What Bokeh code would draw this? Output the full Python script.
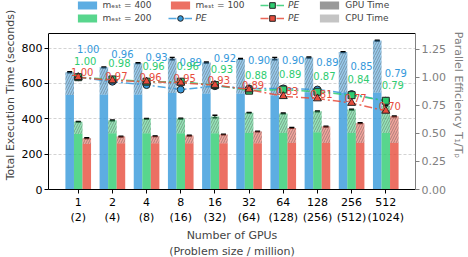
from bokeh.plotting import figure
from bokeh.models import (Range1d, LinearAxis, FixedTicker, ColumnDataSource, Whisker,
                          TeeHead, Legend, LegendItem, PrintfTickFormatter, Span)
from bokeh.core.properties import value
from bokeh.embed import file_html
from bokeh.resources import INLINE

# ---------------- data ----------------
gpus = ["1", "2", "4", "8", "16", "32", "64", "128", "256", "512"]
sizes = ["2", "4", "8", "16", "32", "64", "128", "256", "512", "1024"]

total_400 = [663, 691, 714, 740, 718, 738, 740, 746, 777, 842]
gpu_400 = [534, 537, 537, 545, 543, 543, 532, 550, 549, 549]
err_400 = [3, 2, 2, 7, 3, 2, 6, 3, 2, 2]

total_200 = [383, 391, 400, 401, 413, 434, 430, 442, 452, 474]
gpu_200 = [314, 318, 318, 318, 318, 320, 320, 324, 320, 320]
err_200 = [2, 2, 2, 2, 7, 2, 2, 2, 2, 2]

total_100 = [290, 299, 301, 305, 311, 328, 348, 356, 375, 414]
gpu_100 = [257, 261, 261, 261, 261, 261, 263, 263, 263, 263]
err_100 = [2, 2, 2, 2, 2, 2, 2, 2, 2, 2]

pe_400 = [1.00, 0.96, 0.93, 0.89, 0.92, 0.90, 0.90, 0.89, 0.85, 0.79]
pe_200 = [1.00, 0.98, 0.96, 0.96, 0.93, 0.88, 0.89, 0.87, 0.84, 0.79]
pe_100 = [1.00, 0.97, 0.96, 0.95, 0.93, 0.89, 0.83, 0.81, 0.77, 0.70]

time_ticks = [0, 200, 400, 600, 800]
pe_ticks = [0.0, 0.25, 0.5, 0.75, 1.0, 1.25]
time_max = 882
pe_max = 1.389

# ---------------- style ----------------
FONT = "DejaVu Sans"
BLUE, GREEN, RED = "#3498db", "#2ecc71", "#e74c3c"
GRAY = "#808080"

x = list(range(len(gpus)))

# The frame is extended upward (plot box 156 px + legend strip 33 px) so that the
# legend can sit above the drawn box without being clipped.
BOX_H, STRIP_H = 156, 33
scale_up = (BOX_H + STRIP_H) / BOX_H

p = figure(frame_width=367, frame_height=BOX_H + STRIP_H,
           x_range=Range1d(-0.87, 9.87), y_range=Range1d(0, time_max * scale_up),
           output_backend="svg", toolbar_location=None,
           min_border_left=37, min_border_top=0, min_border_right=5, min_border_bottom=5)
p.extra_y_ranges = {"pe": Range1d(0, pe_max * scale_up)}
p.background_fill_color = "white"
p.outline_line_color = None

# top edge of the plot box
p.add_layout(Span(location=time_max, dimension="width", line_color="black", line_width=1))

# ---------------- bars ----------------
bar_series = [
    (total_400, gpu_400, err_400, BLUE, -0.25),
    (total_200, gpu_200, err_200, GREEN, 0.0),
    (total_100, gpu_100, err_100, RED, 0.25),
]
gpu_renderers = []
bar_srcs = []
for total, gpu, err, color, off in bar_series:
    src = ColumnDataSource(dict(
        xb=[i + off for i in x], total=total, gpu=gpu,
        hi=[t + e for t, e in zip(total, err)], lo=[t - e for t, e in zip(total, err)]))
    bar_srcs.append(src)
    r = p.vbar(x="xb", width=0.25, bottom=0, top="gpu", source=src,
               fill_color=color, fill_alpha=0.8, line_color=None)
    gpu_renderers.append(r)
    p.vbar(x="xb", width=0.25, bottom="gpu", top="total", source=src,
           fill_color=color, fill_alpha=0.5, line_color=None,
           hatch_pattern="/", hatch_color="#444444", hatch_alpha=0.5,
           hatch_scale=5, hatch_weight=0.8)
    p.add_layout(Whisker(source=src, base="xb", upper="hi", lower="lo",
                         line_color="black", line_width=1.2,
                         upper_head=TeeHead(size=5, line_width=1.5, line_color="black"),
                         lower_head=TeeHead(size=5, line_width=1.5, line_color="black")))

# ---------------- PE lines ----------------
pe_series = [
    (pe_400, BLUE, "circle", 7, 10, -28),
    (pe_200, GREEN, "square", 7, 7, -16),
    (pe_100, RED, "triangle", 8, 4, -5),
]
pe_srcs = []
line_renderers = []
for pe, color, marker, size, dx, dy in pe_series:
    src = ColumnDataSource(dict(x=x, pe=pe, lab=[f"{v:.2f}" for v in pe]))
    pe_srcs.append(src)
    line_renderers.append(p.line("x", "pe", source=src, y_range_name="pe", line_color=color,
                                 line_width=1.5, line_dash="8 3 2 3", line_alpha=0.85))
marker_renderers = []
for (pe, color, marker, size, dx, dy), src in zip(pe_series, pe_srcs):
    marker_renderers.append(p.scatter("x", "pe", source=src, y_range_name="pe", marker=marker,
                                      size=size, fill_color=color, line_color="#222222",
                                      line_width=1))
for (pe, color, marker, size, dx, dy), src in zip(pe_series, pe_srcs):
    p.text("x", "pe", text="lab", source=src, y_range_name="pe", x_offset=dx, y_offset=dy,
           text_align="center", text_baseline="middle", text_color=color,
           text_font_size="10px", text_font=value(FONT))

# ---------------- axes ----------------
p.xaxis.ticker = FixedTicker(ticks=x)
p.xaxis.major_label_overrides = {i: f"{g}\n({s})" for i, (g, s) in enumerate(zip(gpus, sizes))}
p.xaxis.axis_label = "Number of GPUs\n(Problem size / million)"
p.yaxis.ticker = FixedTicker(ticks=time_ticks)
p.yaxis.bounds = (0, time_max)
p.yaxis.axis_label = "Total Execution Time (seconds)"
for ax in (p.xaxis[0], p.yaxis[0]):
    ax.axis_label_text_font = FONT
    ax.axis_label_text_font_size = "11px"
    ax.axis_label_text_font_style = "normal"
    ax.major_label_text_font = FONT
    ax.major_label_text_font_size = "11px"
    ax.major_label_text_color = "black"
    ax.axis_line_color = "black"
    ax.major_tick_line_color = "black"
    ax.major_tick_in = 0
    ax.major_tick_out = 4
    ax.minor_tick_line_color = None
    ax.major_label_standoff = 2
    ax.axis_label_standoff = 2

ax2 = LinearAxis(y_range_name="pe", ticker=FixedTicker(ticks=pe_ticks),
                 formatter=PrintfTickFormatter(format="%.2f"), bounds=(0, pe_max),
                 axis_label="Parallel Efficiency T\u2081/T\u209a")
ax2.axis_label_text_font = FONT
ax2.axis_label_text_font_size = "11px"
ax2.axis_label_text_font_style = "normal"
ax2.axis_label_text_color = GRAY
ax2.major_label_text_font = FONT
ax2.major_label_text_font_size = "11px"
ax2.major_label_text_color = GRAY
ax2.axis_line_color = GRAY
ax2.major_tick_line_color = GRAY
ax2.major_tick_in = 0
ax2.major_tick_out = 4
ax2.minor_tick_line_color = None
ax2.major_label_standoff = 2
ax2.axis_label_standoff = 3
p.add_layout(ax2, "right")

p.xgrid.visible = False
p.ygrid.grid_line_color = "#c8c8c8"
p.ygrid.grid_line_dash = "3 2"
p.ygrid.grid_line_width = 0.8

# ---------------- legend (one small legend per entry, placed like the reference) ----------------
# legend-only proxies: real data, but not shown in the plot (visible=False)
gpu_time = p.vbar(x="xb", width=0.25, top="gpu", source=bar_srcs[0],
                  fill_color="#999999", line_color=None, visible=False)
cpu_time = p.vbar(x="xb", width=0.25, top="gpu", source=bar_srcs[0],
                  fill_color="#c4c4c4", line_color=None, visible=False)
red_sq = p.scatter("x", "pe", source=pe_srcs[2], marker="square", size=6, fill_color=RED,
                   line_color="#222222", y_range_name="pe", visible=False)

m_label = "m\u2091\u209b\u209c = "
legend_specs = [
    (m_label + "400", [gpu_renderers[0]], 26.6, 179.1, 10, False),
    (m_label + "200", [gpu_renderers[1]], 26.6, 166.1, 10, False),
    (m_label + "100", [gpu_renderers[2]], 119.6, 179.1, 10, False),
    ("PE", [line_renderers[0], marker_renderers[0]], 119.6, 164.3, 14, True),
    ("PE", [line_renderers[1], marker_renderers[1]], 212.0, 177.3, 14, True),
    ("PE", [line_renderers[2], red_sq], 212.0, 164.3, 14, True),
    ("GPU Time", [gpu_time], 269.3, 179.1, 10, False),
    ("CPU Time", [cpu_time], 269.3, 166.1, 10, False),
]
for label, rends, vx, vy, gh, italic in legend_specs:
    leg = Legend(items=[LegendItem(label=label, renderers=rends)], location=(vx, vy),
                 padding=0, margin=0, spacing=0, border_line_color=None,
                 background_fill_alpha=0, glyph_width=24, glyph_height=gh, label_height=gh,
                 label_standoff=4, label_text_font=FONT, label_text_font_size="9px",
                 label_text_font_style="italic" if italic else "normal",
                 label_text_baseline="middle", click_policy="none",
                 inactive_fill_alpha=0)
    p.add_layout(leg)

open("out.html", "w").write(file_html(p, INLINE))
